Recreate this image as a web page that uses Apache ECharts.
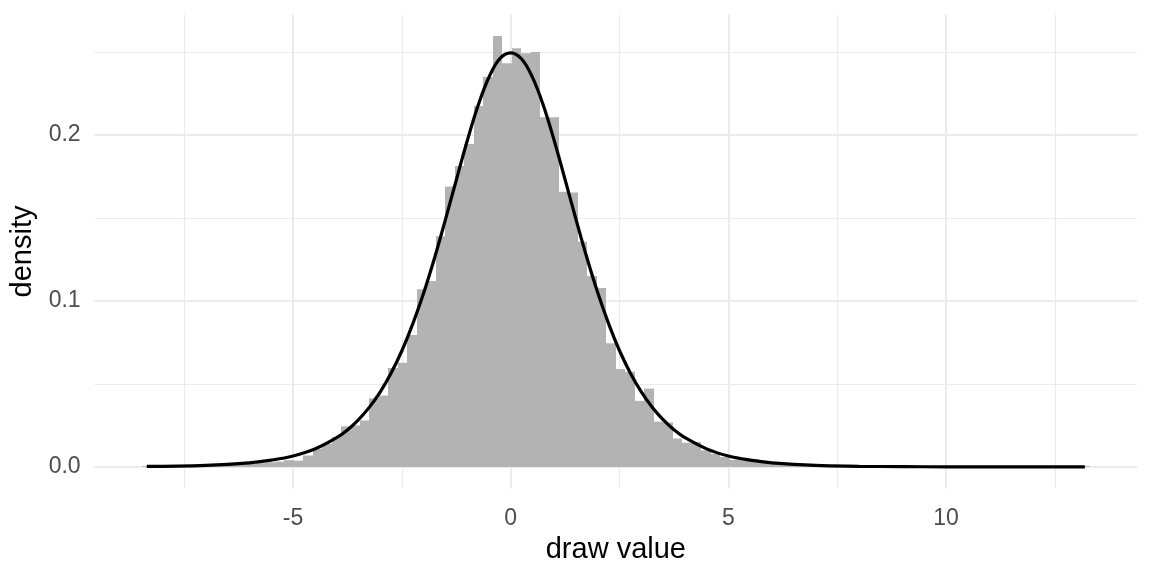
<!DOCTYPE html>
<html>
<head>
<meta charset="utf-8">
<script src="https://cdn.jsdelivr.net/npm/echarts@6/dist/echarts.min.js"></script>
<style>html,body{margin:0;padding:0;background:#fff;}#c{width:1152px;height:576px;}</style>
</head>
<body>
<div id="c"></div>
<script>
// ---- data ----
const binStart = -8.47;      // left edge of first bin
const binWidth = 0.2177;     // bin width (100 bins)
const binDensity = [
  0.0005, 0, 0.0005, 0, 0.0005, 0.0009, 0.0005, 0.0009, 0.0009, 0.0014,
  0.0014, 0.0018, 0.0023, 0.0028, 0.0032, 0.0041, 0.0038, 0.0069, 0.0110, 0.0140,
  0.0180, 0.0245, 0.0250, 0.0280, 0.0414, 0.0430, 0.0596, 0.0628, 0.0795, 0.1070,
  0.1120, 0.1390, 0.1690, 0.1813, 0.1946, 0.2175, 0.2350, 0.2596, 0.2432, 0.2522,
  0.2492, 0.2500, 0.2107, 0.2107, 0.1658, 0.1653, 0.1357, 0.1151, 0.1078, 0.0745,
  0.0590, 0.0574, 0.0398, 0.0472, 0.0273, 0.0268, 0.0171, 0.0146, 0.0151, 0.0100,
  0.0078, 0.0060, 0.0042, 0.0046, 0.0047, 0.0025, 0.0020, 0.0016, 0.0014, 0.0009,
  0.0009, 0.0018, 0.0005, 0.0005, 0.0005, 0, 0.0005, 0, 0.0005, 0,
  0, 0.0005, 0, 0, 0, 0, 0, 0, 0, 0,
  0, 0, 0, 0, 0, 0, 0, 0, 0, 0.0005
];
const curveX = [-8.36, -8, -7, -6, -5.5, -5, -4.5, -4, -3.75, -3.5, -3.25, -3, -2.75, -2.5, -2.25, -2, -1.75, -1.5, -1.25, -1, -0.75, -0.5, -0.25, 0, 0.25, 0.5, 0.75, 1, 1.25, 1.5, 1.75, 2, 2.25, 2.5, 2.75, 3, 3.25, 3.5, 3.75, 4, 4.5, 5, 5.5, 6, 7, 8, 9, 10, 11, 12, 13.19];
const curveY = [0.0003, 0.0004, 0.0009, 0.0025, 0.0041, 0.0066, 0.0108, 0.0176, 0.0223, 0.0284, 0.0359, 0.0451, 0.0564, 0.0700, 0.0862, 0.1048, 0.1259, 0.1490, 0.1729, 0.1964, 0.2177, 0.2348, 0.2460, 0.2495, 0.2458, 0.2347, 0.2178, 0.1965, 0.1730, 0.1491, 0.1260, 0.1049, 0.0862, 0.0700, 0.0565, 0.0452, 0.0360, 0.0285, 0.0224, 0.0177, 0.0109, 0.0066, 0.0041, 0.0025, 0.0009, 0.0004, 0.0002, 0.0001, 0.0001, 0.0001, 0.0001];
const xMajorTicks = [-5, 0, 5, 10];
const xMinorTicks = [-7.5, -2.5, 2.5, 7.5, 12.5];
const yMajorTicks = [0, 0.1, 0.2];
const yMinorTicks = [0.05, 0.15, 0.25];
const xLimits = [-9.559, 14.389];
const yLimits = [-0.01298, 0.27258];

// ---- build series data ----
const histData = binDensity.map((d, k) => [binStart + k * binWidth, binStart + (k + 1) * binWidth, d]);
const curveData = curveX.map((x, i) => [x, curveY[i]]);

const FONT = '"Liberation Sans", Arial, Helvetica, sans-serif';
const gridColor = '#EBEBEB';

const chart = echarts.init(document.getElementById('c'), null, {renderer: 'canvas'});
chart.setOption({
  animation: false,
  backgroundColor: '#ffffff',
  grid: {left: 94.6, right: 14.9, top: 14.5, bottom: 87.5, containLabel: false},
  xAxis: [{
    type: 'value', min: xLimits[0], max: xLimits[1],
    axisLine: {show: false}, axisTick: {show: false, customValues: xMajorTicks},
    axisLabel: {customValues: xMajorTicks, margin: 19, fontSize: 23, color: '#4D4D4D', fontFamily: FONT,
                formatter: v => String(v)},
    splitLine: {show: true, lineStyle: {color: gridColor, width: 2}},
    name: 'draw value', nameLocation: 'middle', nameGap: 47,
    nameTextStyle: {fontSize: 29, color: '#000', fontFamily: FONT}
  }, {
    type: 'value', min: xLimits[0], max: xLimits[1], position: 'top',
    axisLine: {show: false}, axisTick: {show: false, customValues: xMinorTicks},
    axisLabel: {show: false, customValues: xMinorTicks},
    splitLine: {show: true, lineStyle: {color: gridColor, width: 1.2}}
  }],
  yAxis: [{
    type: 'value', min: yLimits[0], max: yLimits[1],
    axisLine: {show: false}, axisTick: {show: false, customValues: yMajorTicks},
    axisLabel: {customValues: yMajorTicks, margin: 14, fontSize: 23, color: '#4D4D4D', fontFamily: FONT,
                formatter: v => v.toFixed(1)},
    splitLine: {show: true, lineStyle: {color: gridColor, width: 2}},
    name: 'density', nameLocation: 'middle', nameGap: 48, nameRotate: 90,
    nameTextStyle: {fontSize: 29, color: '#000', fontFamily: FONT}
  }, {
    type: 'value', min: yLimits[0], max: yLimits[1], position: 'right',
    axisLine: {show: false}, axisTick: {show: false, customValues: yMinorTicks},
    axisLabel: {show: false, customValues: yMinorTicks},
    splitLine: {show: true, lineStyle: {color: gridColor, width: 1.2}}
  }],
  series: [{
    type: 'custom', z: 10, silent: true,
    xAxisIndex: 0, yAxisIndex: 0,
    data: histData,
    renderItem: (params, api) => {
      const p0 = api.coord([api.value(0), api.value(2)]);
      const p1 = api.coord([api.value(1), 0]);
      const x0 = Math.round(p0[0]), x1 = Math.round(p1[0]);
      return {
        type: 'rect',
        shape: {x: x0, y: p0[1], width: x1 - x0, height: p1[1] - p0[1]},
        style: {fill: '#B3B3B3'}
      };
    }
  }, {
    type: 'line', z: 12, silent: true,
    xAxisIndex: 0, yAxisIndex: 0,
    data: curveData, smooth: 0.4, showSymbol: false,
    lineStyle: {color: '#000000', width: 3.2}
  }]
});
</script>
</body>
</html>
